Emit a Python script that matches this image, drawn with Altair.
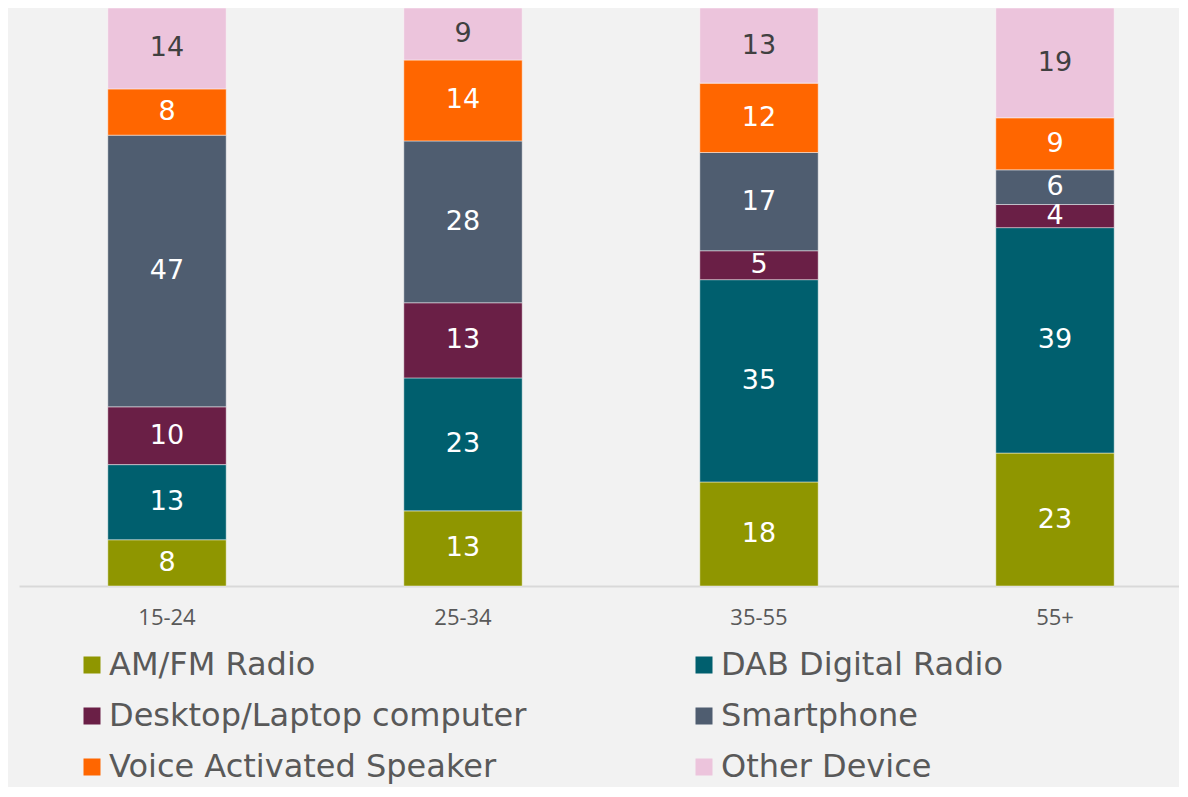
import altair as alt
import pandas as pd

ages = ["15-24", "25-34", "35-55", "55+"]
devices = ["AM/FM Radio", "DAB Digital Radio", "Desktop/Laptop computer",
           "Smartphone", "Voice Activated Speaker", "Other Device"]
colors = ["#8f9600", "#005f6e", "#6a1f46", "#4f5d70", "#ff6600", "#ecc4dc"]

am_fm = [8, 13, 18, 23]
dab = [13, 23, 35, 39]
desktop = [10, 13, 5, 4]
smartphone = [47, 28, 17, 6]
voice = [8, 14, 12, 9]
other = [14, 9, 13, 19]

series = [am_fm, dab, desktop, smartphone, voice, other]

rows = []
for ai, age in enumerate(ages):
    cum = 0
    for di, dev in enumerate(devices):
        v = series[di][ai]
        rows.append({"age": age, "device": dev, "order": di, "value": v,
                     "mid": cum + v / 2,
                     "dark": dev == "Other Device"})
        cum += v
df = pd.DataFrame(rows)

x_enc = alt.X("age:N", sort=ages, title=None,
              scale=alt.Scale(range=[0, 1184], paddingInner=0.6, paddingOuter=0.3),
              axis=alt.Axis(domainColor="#d9d9d9", domainWidth=2, ticks=False,
                            labelAngle=0, labelFont="Open Sans", labelFontSize=22,
                            labelColor="#595959", labelPadding=21))

bars = alt.Chart(df).mark_bar(stroke="#ffffff", strokeOpacity=0.45, strokeWidth=1).encode(
    x=x_enc,
    y=alt.Y("value:Q", stack="zero", scale=alt.Scale(domain=[0, 100], nice=False),
            axis=None),
    color=alt.Color("device:N", sort=devices,
                    scale=alt.Scale(domain=devices, range=colors),
                    legend=alt.Legend(title=None, orient="none", legendX=57, legendY=641,
                                      columns=2, direction="horizontal",
                                      symbolType="square", symbolSize=289,
                                      symbolStrokeWidth=0, labelFont="DejaVu Sans",
                                      labelFontSize=32, labelColor="#595959",
                                      rowPadding=19, columnPadding=161, labelOffset=1,
                                      labelLimit=600, padding=0)),
    order=alt.Order("order:Q"),
)

labels = alt.Chart(df).mark_text(font="DejaVu Sans", fontSize=27, baseline="middle").encode(
    x=alt.X("age:N", sort=ages),
    y=alt.Y("mid:Q"),
    text=alt.Text("value:Q"),
    color=alt.condition(alt.datum.dark, alt.value("#404040"), alt.value("#ffffff")),
)

chart = alt.layer(bars, labels).properties(
    width=1160, height=578,
    background="#f2f2f2",
    padding={"left": 11, "top": 0, "right": 0, "bottom": 201},
    autosize=alt.AutoSizeParams(type="none"),
).configure_view(stroke=None)

chart.save("out.html", embed_options={"renderer": "svg", "actions": False})
